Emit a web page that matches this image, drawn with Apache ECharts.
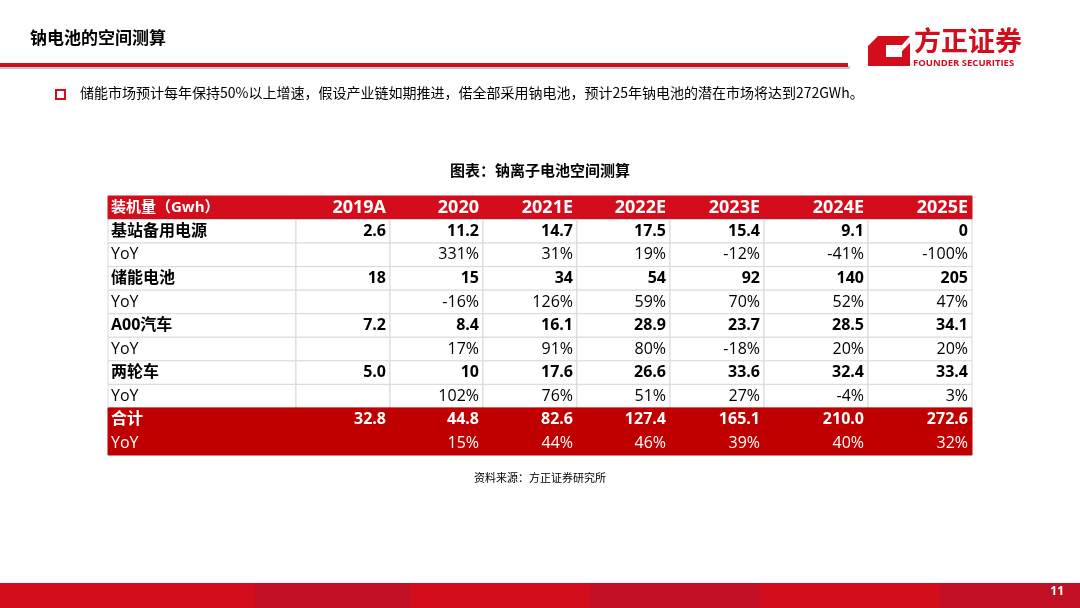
<!DOCTYPE html>
<html>
<head>
<meta charset="utf-8">
<script src="https://cdn.jsdelivr.net/npm/echarts@6/dist/echarts.min.js"></script>
<style>
  html, body { margin: 0; padding: 0; background: #fff; }
  #main { width: 1080px; height: 608px; }
</style>
</head>
<body>
<div id="main"></div>
<script>
// 表格数据
var headerLabel = '装机量（Gwh）';
var years = ['2019A', '2020', '2021E', '2022E', '2023E', '2024E', '2025E'];
var rowNames = ['基站备用电源', 'YoY', '储能电池', 'YoY', 'A00汽车', 'YoY', '两轮车', 'YoY', '合计', 'YoY'];
var baseStation = ['2.6', '11.2', '14.7', '17.5', '15.4', '9.1', '0'];
var baseYoY = ['', '331%', '31%', '19%', '-12%', '-41%', '-100%'];
var storage = ['18', '15', '34', '54', '92', '140', '205'];
var storageYoY = ['', '-16%', '126%', '59%', '70%', '52%', '47%'];
var a00Car = ['7.2', '8.4', '16.1', '28.9', '23.7', '28.5', '34.1'];
var a00YoY = ['', '17%', '91%', '80%', '-18%', '20%', '20%'];
var twoWheel = ['5.0', '10', '17.6', '26.6', '33.6', '32.4', '33.4'];
var twoWheelYoY = ['', '102%', '76%', '51%', '27%', '-4%', '3%'];
var total = ['32.8', '44.8', '82.6', '127.4', '165.1', '210.0', '272.6'];
var totalYoY = ['', '15%', '44%', '46%', '39%', '40%', '32%'];

var rowsData = [baseStation, baseYoY, storage, storageYoY, a00Car, a00YoY, twoWheel, twoWheelYoY, total, totalYoY];

// 列边界（x轴数值）
var colEdges = [108, 296, 390, 483, 577, 670, 764, 868, 972];

var cells = [];
cells.push([0, 0, headerLabel]);
years.forEach(function (y, i) { cells.push([i + 1, 0, y]); });
rowNames.forEach(function (name, r) {
  cells.push([0, r + 1, name]);
  rowsData[r].forEach(function (v, i) { cells.push([i + 1, r + 1, v]); });
});

function renderCell(params, api) {
  var c = api.value(0), r = api.value(1), txt = cells[params.dataIndex][2];
  var p0 = api.coord([colEdges[c], r]);
  var p1 = api.coord([colEdges[c + 1], r + 1]);
  var w = p1[0] - p0[0], h = p1[1] - p0[1];
  var red = r === 0 || r >= 9;
  var bg = r === 0 ? '#d40d1d' : (red ? '#c00000' : '#fff');
  var isYoY = r > 0 && (r % 2 === 0);
  var bold = !isYoY;
  var fontSize = r === 0 ? (c === 0 ? 15 : 18) : 16;
  var children = [{
    type: 'rect',
    shape: { x: p0[0], y: p0[1], width: w, height: h },
    style: { fill: bg, stroke: red ? bg : '#d9d9d9', lineWidth: 1 }
  }, {
    type: 'text',
    style: {
      x: c === 0 ? p0[0] + 3 : p1[0] - 4,
      y: p0[1] + h / 2,
      text: txt,
      align: c === 0 ? 'left' : 'right',
      verticalAlign: 'middle',
      fill: red ? '#fff' : '#000',
      font: (bold ? 'bold ' : '') + fontSize + 'px "Open Sans", "Noto Sans CJK SC", sans-serif'
    }
  }];
  return { type: 'group', children: children };
}

var chart = echarts.init(document.getElementById('main'));
var option = {
  backgroundColor: '#fff',
  animation: false,
  grid: { left: 108, top: 196, width: 864, height: 259 },
  xAxis: { type: 'value', min: 108, max: 972, show: false },
  yAxis: { type: 'value', min: 0, max: 11, inverse: true, show: false },
  graphic: [
    { type: 'text', left: 30, top: 29, style: { text: '钠电池的空间测算', fill: '#000', font: 'bold 17px "Noto Sans CJK SC"' } },
    { type: 'rect', shape: { x: 0, y: 66, width: 850, height: 3 }, style: { fill: '#c8c8c8' } },
    { type: 'rect', shape: { x: 0, y: 63, width: 848, height: 4 }, style: { fill: '#d40d1d' } },
    { type: 'polygon', shape: { points: [[878, 36], [910, 36], [902, 45], [886, 45], [886, 57], [902, 57], [902, 51], [910, 43], [910, 66], [868, 66], [868, 46]] }, style: { fill: '#d40d1d' } },
    { type: 'text', left: 914, top: 27, style: { text: '方正证券', fill: '#d40d1d', font: 'bold 27px "Noto Sans CJK SC"' } },
    { type: 'text', left: 913, top: 58, style: { text: 'FOUNDER SECURITIES', fill: '#d40d1d', font: 'bold 9.5px "Open Sans"' } },
    { type: 'rect', shape: { x: 56, y: 90, width: 9, height: 9 }, style: { fill: 'none', stroke: '#d40d1d', lineWidth: 2 } },
    { type: 'text', left: 80, top: 86, style: { text: '储能市场预计每年保持50%以上增速，假设产业链如期推进，偌全部采用钠电池，预计25年钠电池的潜在市场将达到272GWh。', fill: '#000', font: '14px "Noto Sans CJK SC"' } },
    { type: 'text', left: 'center', top: 163, style: { text: '图表：钠离子电池空间测算', fill: '#000', font: 'bold 15px "Noto Sans CJK SC"' } },
    { type: 'text', left: 'center', top: 472, style: { text: '资料来源：方正证券研究所', fill: '#000', font: '11px "Noto Sans CJK SC"' } },
    { type: 'rect', shape: { x: 0, y: 583, width: 1080, height: 25 }, style: { fill: '#d40d1d' } },
    { type: 'rect', shape: { x: 255, y: 583, width: 155, height: 25 }, style: { fill: '#c10f25' } },
    { type: 'rect', shape: { x: 590, y: 583, width: 170, height: 25 }, style: { fill: '#c10f25' } },
    { type: 'rect', shape: { x: 940, y: 583, width: 140, height: 25 }, style: { fill: '#c10f25' } },
    { type: 'text', right: 16, top: 586, style: { text: '11', fill: '#fff', font: 'bold 12px "Open Sans"' } }
  ],
  series: [{
    type: 'custom',
    renderItem: renderCell,
    data: cells.map(function (d) { return [d[0], d[1]]; })
  }]
};
chart.setOption(option);
</script>
</body>
</html>
